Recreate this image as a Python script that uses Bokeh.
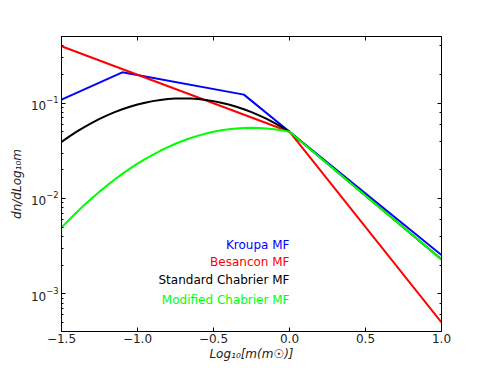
from bokeh.plotting import figure
from bokeh.models import LogAxis, LinearAxis, FixedTicker, Label, Range1d
from bokeh.embed import file_html
from bokeh.resources import INLINE

# ---- data ----
kroupa_x = [-1.5, -1.1, -0.3, 0.0, 1.0]
kroupa_y = [0.109, 0.211, 0.123, 0.0502, 0.00255]

besancon_x = [-1.5, 0.0, 1.0]
besancon_y = [0.396, 0.0502, 0.0005]

chab_x = [-1.50, -1.45, -1.40, -1.35, -1.30, -1.25, -1.20, -1.15, -1.10, -1.05,
          -1.00, -0.95, -0.90, -0.85, -0.80, -0.75, -0.70, -0.65, -0.60, -0.55,
          -0.50, -0.45, -0.40, -0.35, -0.30, -0.25, -0.20, -0.15, -0.10, -0.05,
          0.00, 1.00]
std_chab_y = [0.03928, 0.04461, 0.05025, 0.05613, 0.06217, 0.06833, 0.07447, 0.08046,
              0.08631, 0.09179, 0.09681, 0.1013, 0.1051, 0.1081, 0.1104, 0.1117,
              0.1122, 0.1117, 0.1104, 0.1081, 0.1051, 0.1013, 0.09681, 0.09179,
              0.08631, 0.08046, 0.07447, 0.06833, 0.06217, 0.05613, 0.05025, 0.00229]
mod_chab_y = [0.004955, 0.005986, 0.007176, 0.008535, 0.01008, 0.0118, 0.01372, 0.01582,
              0.01811, 0.02056, 0.02318, 0.02593, 0.02876, 0.03168, 0.03461, 0.03752,
              0.04039, 0.04312, 0.04569, 0.04804, 0.05012, 0.05189, 0.0533, 0.05434,
              0.05497, 0.05521, 0.05497, 0.05434, 0.0533, 0.05189, 0.05012, 0.00229]

x_ticks = [-1.5, -1.0, -0.5, 0.0, 0.5, 1.0]
x_tick_labels = ["\u22121.5", "\u22121.0", "\u22120.5", "0.0", "0.5", "1.0"]

legend_names = ["Kroupa MF", "Besancon MF", "Standard Chabrier MF", "Modified Chabrier MF"]
legend_colors = ["#0000ff", "#ff0000", "#000000", "#00ff00"]
legend_y = [0.00327, 0.00215, 0.00138, 0.000851]

FONT = "DejaVu Sans"

p = figure(
    width=481, height=367,
    min_border_left=61, min_border_top=36, min_border_right=40, min_border_bottom=36,
    x_range=Range1d(-1.5, 1.0), y_range=Range1d(4.02e-4, 0.501),
    y_axis_type="log",
    output_backend="svg", toolbar_location=None,
    background_fill_color="white", border_fill_color="white",
)
p.grid.visible = False
p.outline_line_color = "black"
p.outline_line_width = 1

p.line(kroupa_x, kroupa_y, line_color="#0000ff", line_width=2)
p.line(besancon_x, besancon_y, line_color="#ff0000", line_width=2)
p.line(chab_x, std_chab_y, line_color="#000000", line_width=2)
p.line(chab_x, mod_chab_y, line_color="#00ff00", line_width=2)

def style_axis(ax, show_labels=True):
    ax.major_tick_in = 4
    ax.major_tick_out = 0
    ax.minor_tick_in = 2
    ax.minor_tick_out = 0
    ax.axis_line_color = "black"
    ax.major_tick_line_color = "black"
    ax.minor_tick_line_color = "black"
    ax.major_label_text_font = FONT
    ax.major_label_text_font_size = "12px"
    ax.major_label_text_color = "#222222"
    ax.major_label_standoff = 3
    if not show_labels:
        ax.major_label_text_font_size = "2px"
        ax.major_label_text_alpha = 0.0
        ax.major_label_standoff = 0

# bottom x axis
xax = p.xaxis[0]
xax.ticker = FixedTicker(ticks=x_ticks)
xax.major_label_overrides = {t: l for t, l in zip(x_ticks, x_tick_labels)}
style_axis(xax)
xax.major_label_standoff = 2
xax.minor_tick_in = 0
xax.axis_label = "Log\u2081\u2080[m(m\u2609)]"
xax.axis_label_text_font = FONT
xax.axis_label_text_font_style = "italic"
xax.axis_label_text_font_size = "12px"
xax.axis_label_text_color = "#222222"
xax.axis_label_standoff = 1

# left y axis
yax = p.yaxis[0]
style_axis(yax)
yax.axis_label = "dn/dLog\u2081\u2080m"
yax.axis_label_text_font = FONT
yax.axis_label_text_font_style = "italic"
yax.axis_label_text_font_size = "12px"
yax.axis_label_text_color = "#222222"
yax.axis_label_standoff = 4

# mirrored axes (ticks only)
top = LinearAxis(ticker=FixedTicker(ticks=x_ticks))
style_axis(top, show_labels=False)
top.minor_tick_in = 0
p.add_layout(top, "above")

right = LogAxis()
style_axis(right, show_labels=False)
p.add_layout(right, "right")

for name, col, yy in zip(legend_names, legend_colors, legend_y):
    p.add_layout(Label(x=0.0, y=yy, x_units="data", y_units="data", text=name,
                       text_color=col, text_font=FONT, text_font_size="12px",
                       text_align="right", text_baseline="alphabetic"))

open("out.html", "w").write(file_html(p, INLINE))
